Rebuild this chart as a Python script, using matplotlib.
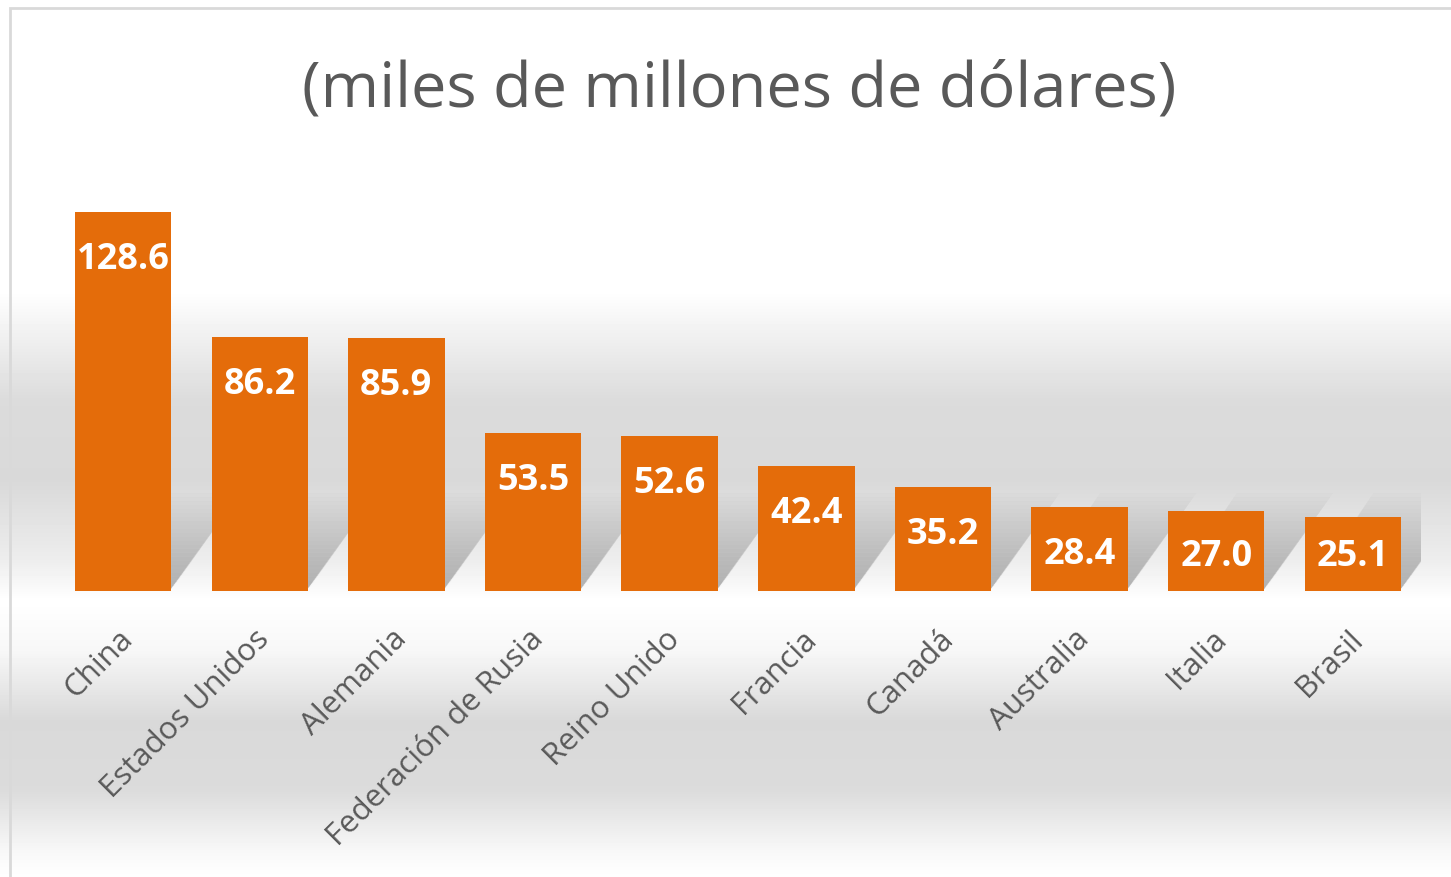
import numpy as np
import matplotlib.pyplot as plt
import matplotlib.transforms as mtransforms
from matplotlib.patches import Rectangle, Polygon

paises = ["China", "Estados Unidos", "Alemania", "Federación de Rusia", "Reino Unido",
          "Francia", "Canadá", "Australia", "Italia", "Brasil"]
valores = [128.6, 86.2, 85.9, 53.5, 52.6, 42.4, 35.2, 28.4, 27.0, 25.1]
titulo = "(miles de millones de dólares)"

W, H = 1451, 877
fig = plt.figure(figsize=(W / 100, H / 100), dpi=100)

# fondo con degradado gris (efecto reflejo)
bg = fig.add_axes([0, 0, 1, 1], zorder=-10)
ys = np.arange(H)
stops_y = [0, 290, 400, 480, 560, 600, 650, 720, 790, 850, 877]
stops_c = [1.0, 1.0, 0.86, 0.85, 0.93, 1.0, 0.97, 0.85, 0.86, 0.97, 1.0]
col = np.interp(ys, stops_y, stops_c)
img = np.repeat(col[:, None], 4, axis=1)
bg.imshow(img, cmap="gray", vmin=0, vmax=1, aspect="auto", extent=[0, 1, 1, 0])
bg.set_xlim(0, 1)
bg.set_ylim(1, 0)
bg.axis("off")
bg.add_patch(Rectangle((10 / W, -0.5), 1.2, 1.5 - 8 / H, transform=bg.transAxes,
                       fill=False, edgecolor="#d9d9d9", linewidth=2))

ax = fig.add_axes([54.7 / W, (H - 591) / H, (1421.3 - 54.7) / W, (591 - 178.4) / H])
ax.patch.set_alpha(0)
x = np.arange(len(paises))
ancho = 0.705
ax.bar(x, valores, width=ancho, color="#E46C0A", zorder=3)
ax.set_xlim(-0.5, len(paises) - 0.5)
ax.set_ylim(0, 140)

# sombra difusa detras de cada barra
px_x = 1 / 136.67
px_y = 140 / 412.6
for xi in x:
    l, r = xi - ancho / 2, xi + ancho / 2
    for k in range(24):
        hp = 6 + 4 * k
        h = hp * px_y
        dx = 0.7 * hp * px_x
        ax.add_patch(Polygon([(l + 6 * px_x, 0), (r - 2 * px_x, 0), (r + dx, h), (l + dx, h)],
                             closed=True, facecolor="#555555", edgecolor="none",
                             alpha=0.018, zorder=2))

off = mtransforms.offset_copy(ax.transData, fig=fig, x=0, y=-3, units="dots")
for xi, v in zip(x, valores):
    yl = max(v - 45 * px_y, 37 * px_y)
    ax.text(xi, yl, f"{v:.1f}", transform=off, ha="center", va="center",
            color="white", fontsize=26, fontweight="bold", family="Open Sans", zorder=4)

ax.set_xticks(x)
ax.set_xticklabels(paises, rotation=45, ha="right", rotation_mode="anchor",
                   fontsize=22.5, color="#595959", family="Open Sans")
ax.tick_params(axis="x", length=0, pad=24)
for lab in ax.get_xticklabels():
    lab.set_transform(lab.get_transform() + mtransforms.Affine2D().translate(-5, 0))
ax.set_yticks([])
for s in ax.spines.values():
    s.set_visible(False)

fig.text(739 / W, 1 - 90 / H, titulo, ha="center", va="center", fontsize=45.5,
         color="#595959", family="Open Sans")

fig.savefig("out.png", dpi=100)
